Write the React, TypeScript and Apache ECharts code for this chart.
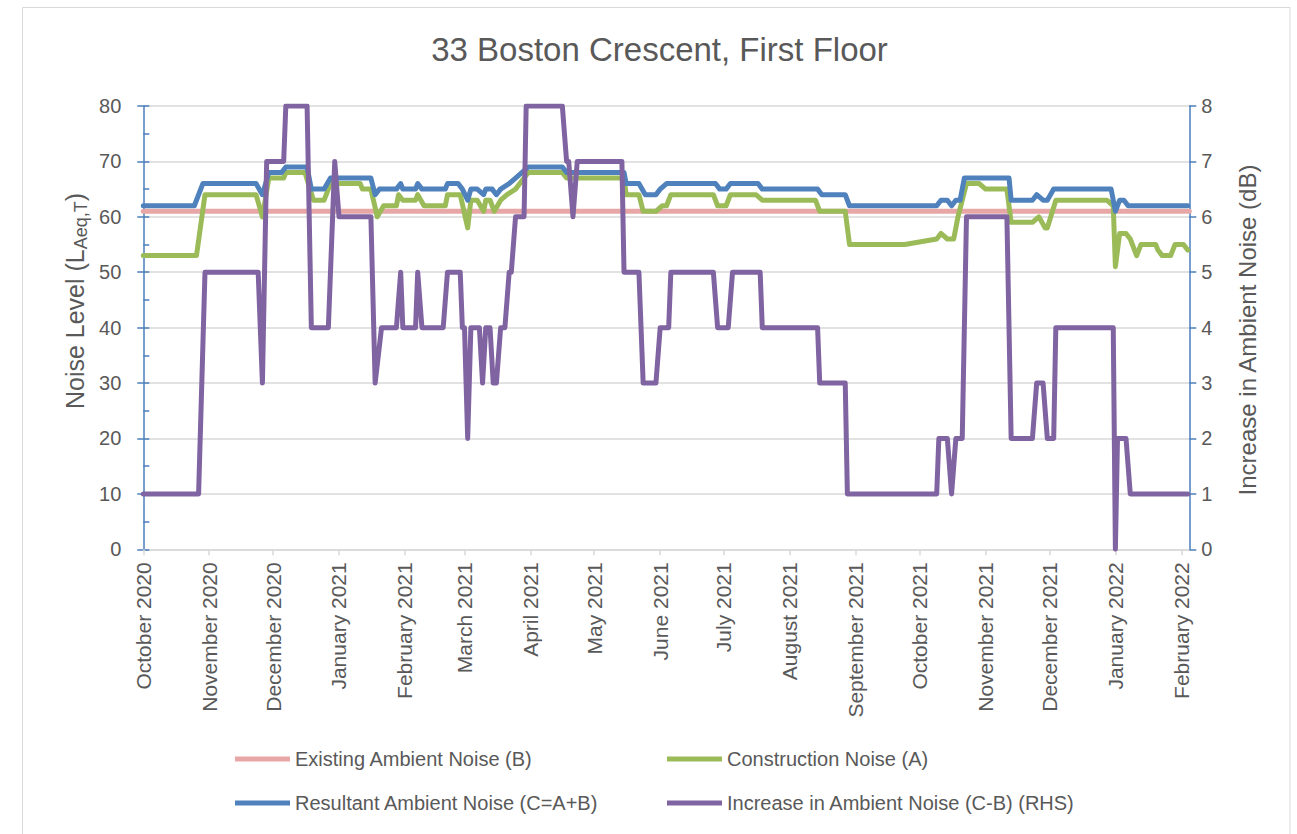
import React, { useEffect, useRef } from "react";
import * as echarts from "echarts";

// ---- data (x = days since 1 October 2020, y = level) ----
const startDate = "2020-10-01";
const axisEndDay = 491.75;

const monthTicks = [
  "2020-10-01", "2020-11-01", "2020-12-01", "2021-01-01", "2021-02-01",
  "2021-03-01", "2021-04-01", "2021-05-01", "2021-06-01", "2021-07-01",
  "2021-08-01", "2021-09-01", "2021-10-01", "2021-11-01", "2021-12-01",
  "2022-01-01", "2022-02-01",
];
const monthNames = [
  "January", "February", "March", "April", "May", "June",
  "July", "August", "September", "October", "November", "December",
];

const existingNoise: [number, number][] = [[0, 61], [491.75, 61]];

const constructionNoise: [number, number][] = [
  [0, 53], [25, 53], [29, 64], [53, 64], [56, 60], [59, 67], [66, 67], [67, 68],
  [76, 68], [80, 63], [85, 63], [88, 66], [102, 66], [103, 65], [107, 65], [110, 60],
  [113, 62], [119, 62], [120, 64], [122, 63], [128, 63], [129, 64], [132, 62], [142, 62],
  [143, 64], [149, 64], [152.5, 58], [154, 63], [157, 63], [160, 61], [161, 63], [163, 63],
  [165, 61], [168, 63], [171, 64], [175, 65], [177, 66], [181, 68], [197, 68], [199, 67],
  [226, 67], [227, 64], [233, 64], [235, 61], [241, 61], [244, 62], [246, 62], [248, 64],
  [268, 64], [270, 62], [274, 62], [276, 64], [288, 64], [291, 63], [316, 63], [318, 61],
  [330, 61], [332, 55], [358, 55], [373, 56], [375, 57], [378, 56], [381, 56], [383, 60],
  [387, 66], [393, 66], [396, 65], [406, 65], [408, 59], [418, 59], [421, 60], [424, 58],
  [425, 58], [429, 63], [453, 63], [456, 62], [457, 51], [459, 57], [462, 57], [464, 56],
  [467, 53], [469, 55], [476, 55], [477, 54], [479, 53], [483, 53], [485, 55], [489, 55],
  [491, 54],
];

const resultantNoise: [number, number][] = [
  [0, 62], [24, 62], [28, 66], [53, 66], [56, 64], [59, 68], [65, 68], [67, 69],
  [77, 69], [79, 65], [85, 65], [88, 67], [107, 67], [109, 64], [111, 65], [119, 65],
  [121, 66], [122, 65], [128, 65], [129, 66], [131, 65], [142, 65], [143, 66], [148, 66],
  [150, 65], [152.5, 63], [154, 65], [157, 65], [160, 64], [161, 65], [164, 65], [166, 64],
  [168, 65], [172, 66], [175, 67], [181, 69], [197, 69], [199, 68], [226, 68], [227, 66],
  [233, 66], [236, 64], [241, 64], [243, 65], [246, 66], [269, 66], [271, 65], [274, 65],
  [276, 66], [289, 66], [291, 65], [317, 65], [319, 64], [330, 64], [332, 62], [373, 62],
  [375, 63], [378, 63], [380, 62], [382, 63], [384, 63], [386, 67], [407, 67], [408, 63],
  [418, 63], [420, 64], [423, 63], [425, 63], [428, 65], [455, 65], [457, 61], [459, 63],
  [461, 63], [463, 62], [491, 62],
];

const increaseNoise: [number, number][] = [
  [0, 1], [26, 1], [29, 5], [54, 5], [56, 3], [58, 7], [66, 7], [67, 8],
  [77, 8], [79, 4], [87, 4], [90, 7], [92, 6], [107, 6], [109, 3], [112, 4],
  [119, 4], [121, 5], [122, 4], [128, 4], [129, 5], [131, 4], [141, 4], [143, 5],
  [149, 5], [150, 4], [151, 4], [152.5, 2], [154, 4], [158, 4], [159.5, 3], [161, 4],
  [163, 4], [164.5, 3], [166, 3], [168, 4], [170, 4], [172, 5], [173, 5], [175, 6],
  [179, 6], [180, 8], [197, 8], [199, 7], [200, 7], [202, 6], [204, 7], [225, 7],
  [226, 5], [233, 5], [235, 3], [241, 3], [243, 4], [247, 4], [248, 5], [268, 5],
  [270, 4], [275, 4], [277, 5], [290, 5], [291, 4], [317, 4], [318, 3], [330, 3],
  [331, 1], [373, 1], [374, 2], [378, 2], [380, 1], [382, 2], [385, 2], [387, 6],
  [406, 6], [408, 2], [418, 2], [420, 3], [423, 3], [425, 2], [428, 2], [429, 4],
  [456, 4], [457, 0], [458, 2], [462, 2], [464, 1], [491, 1],
];

const seriesNames = [
  "Existing Ambient Noise (B)",
  "Construction Noise (A)",
  "Resultant Ambient Noise (C=A+B)",
  "Increase in Ambient Noise (C-B) (RHS)",
];
const seriesColors = ["#e6a7a6", "#9bbb59", "#4f81bd", "#8064a2"];

const titleText = "33 Boston Crescent, First Floor";
const leftAxisTitle = "{a|Noise Level (L}{b|Aeq,T}{a|)}";
const rightAxisTitle = "Increase in Ambient Noise (dB)";

const DAY = 86400000;
const START = Date.parse(startDate);
const dayOf = (s: string) => Math.round((Date.parse(s) - START) / DAY);

const FONT = "'Liberation Sans', Arial, sans-serif";
const TEXT = "#595959";
const GRID = "#d9d9d9";
const AXIS_BLUE = "#4a7ebb";

export default function App() {
  const ref = useRef<HTMLDivElement>(null);

  useEffect(() => {
    if (!ref.current) return;
    const chart = echarts.init(ref.current, undefined, { renderer: "svg" });
    const tickDays = monthTicks.map(dayOf);
    const dataSets = [existingNoise, constructionNoise, resultantNoise, increaseNoise];

    const legendPos = [
      { left: 235, top: 749 },
      { left: 667, top: 749 },
      { left: 235, top: 793 },
      { left: 667, top: 793 },
    ];

    chart.setOption({
      animation: false,
      backgroundColor: "#ffffff",
      textStyle: { fontFamily: FONT },
      title: {
        text: titleText,
        left: 659.5,
        top: 33,
        padding: 0,
        textAlign: "center",
        textStyle: { fontFamily: FONT, fontSize: 33, fontWeight: "normal", color: TEXT },
      },
      grid: { left: 143.3, right: 107.7, top: 106, bottom: 284.7, containLabel: false },
      legend: seriesNames.map((n, i) => ({
        data: [n],
        left: legendPos[i].left,
        top: legendPos[i].top,
        padding: 0,
        icon: "rect",
        itemWidth: 55,
        itemHeight: 5,
        selectedMode: false,
        textStyle: { fontFamily: FONT, fontSize: 20, color: TEXT, lineHeight: 20 },
      })),
      xAxis: {
        type: "value",
        min: 0,
        max: axisEndDay,
        axisLine: { show: true, lineStyle: { color: GRID, width: 1.5 } },
        axisTick: { show: true, length: 6, customValues: tickDays, lineStyle: { color: GRID, width: 1.5 } },
        splitLine: { show: false },
        axisLabel: {
          customValues: tickDays,
          rotate: 90,
          margin: 13,
          fontSize: 21,
          color: TEXT,
          fontFamily: FONT,
          formatter: (v: number) => {
            const d = new Date(START + v * DAY);
            return monthNames[d.getUTCMonth()] + " " + d.getUTCFullYear();
          },
        },
      },
      yAxis: [
        {
          type: "value",
          position: "left",
          min: 0,
          max: 80,
          interval: 10,
          axisLine: { show: true, lineStyle: { color: AXIS_BLUE, width: 1.5 } },
          axisTick: { show: true, inside: true, length: 6, lineStyle: { color: AXIS_BLUE, width: 1.5 } },
          minorTick: { show: true, splitNumber: 2, length: 6, lineStyle: { color: AXIS_BLUE, width: 1.5 } },
          axisLabel: { fontSize: 20, color: TEXT, margin: 22, fontFamily: FONT },
          splitLine: { show: true, lineStyle: { color: GRID, width: 1.5 } },
        },
        {
          type: "value",
          position: "right",
          min: 0,
          max: 8,
          interval: 1,
          axisLine: { show: true, lineStyle: { color: AXIS_BLUE, width: 1.5 } },
          axisTick: { show: true, inside: false, length: 7, lineStyle: { color: AXIS_BLUE, width: 1.5 } },
          axisLabel: { fontSize: 20, color: TEXT, margin: 12, fontFamily: FONT },
          splitLine: { show: false },
        },
        {
          type: "value",
          position: "left",
          offset: 0,
          min: 0,
          max: 80,
          interval: 10,
          axisLine: { show: false },
          axisTick: { show: true, inside: false, length: 6, lineStyle: { color: AXIS_BLUE, width: 1.5 } },
          axisLabel: { show: false },
          splitLine: { show: false },
        },
      ],
      graphic: [
        {
          type: "rect",
          silent: true,
          shape: { x: 22.5, y: 7.5, width: 1267.5, height: 860 },
          style: { fill: "none", stroke: GRID, lineWidth: 1 },
          z: -10,
        },
        {
          type: "text",
          x: 75,
          y: 301,
          rotation: Math.PI / 2,
          silent: true,
          style: {
            text: leftAxisTitle,
            align: "center",
            verticalAlign: "middle",
            fill: TEXT,
            fontFamily: FONT,
            rich: {
              a: { fontSize: 25, lineHeight: 30, fontFamily: FONT, fill: TEXT, verticalAlign: "middle" },
              b: { fontSize: 18, lineHeight: 18, fontFamily: FONT, fill: TEXT, verticalAlign: "bottom" },
            },
          },
        },
        {
          type: "text",
          x: 1247,
          y: 330,
          rotation: Math.PI / 2,
          silent: true,
          style: {
            text: rightAxisTitle,
            align: "center",
            verticalAlign: "middle",
            fill: TEXT,
            fontFamily: FONT,
            fontSize: 24,
          },
        },
      ],
      series: seriesNames.map((n, i) => ({
        name: n,
        type: "line",
        yAxisIndex: i === 3 ? 1 : 0,
        data: dataSets[i],
        symbol: "none",
        showSymbol: false,
        color: seriesColors[i],
        lineStyle: { width: 5, color: seriesColors[i], join: "round", cap: "round" },
        emphasis: { disabled: true },
        z: 2 + i,
      })),
    });

    return () => chart.dispose();
  }, []);

  return (
    <div
      ref={ref}
      style={{ position: "fixed", left: 0, top: 0, width: 1297, height: 834, background: "#fff" }}
    />
  );
}
